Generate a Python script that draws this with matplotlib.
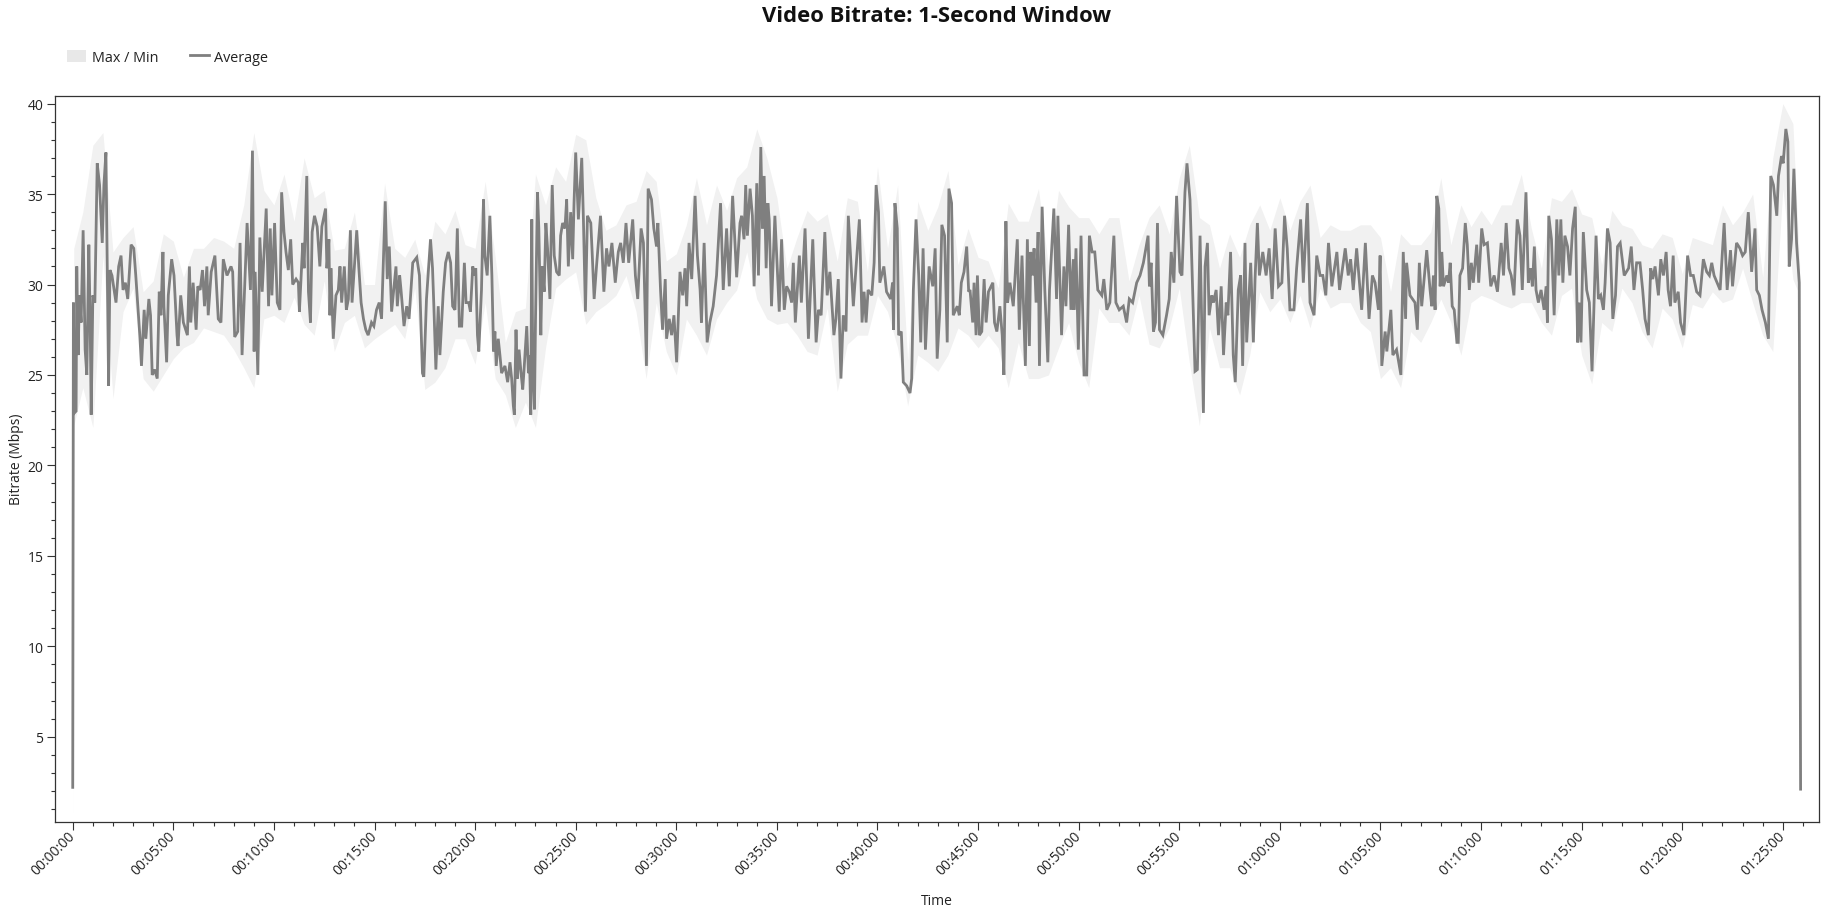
import numpy as np
import matplotlib
matplotlib.use("Agg")
import matplotlib.pyplot as plt
from matplotlib.patches import Patch
from matplotlib.lines import Line2D
from matplotlib.ticker import MultipleLocator, FuncFormatter

# average bitrate (seconds, Mbps) at its turning points
avg_samples = [
    (0, 2.2), (2, 29.0), (5, 22.9), (10, 23.0), (12, 31.0), (16, 26.1), (20, 29.4), (25, 27.9),
    (31, 33.0), (37, 26.4), (42, 25.0), (48, 32.2), (52, 27.9), (55, 22.8), (60, 29.4), (66, 29.0),
    (73, 36.7), (80, 35.5), (88, 32.3), (93, 35.5), (99, 37.3), (107, 24.4), (111, 30.8), (117, 30.5),
    (129, 29.0), (137, 31.0), (144, 31.6), (150, 29.7), (157, 30.1), (164, 29.2), (174, 32.2), (182, 32.0),
    (188, 30.5), (200, 27.2), (205, 25.5), (213, 28.6), (218, 27.0), (227, 29.2), (232, 28.3), (237, 25.0),
    (244, 25.3), (252, 24.8), (258, 29.6), (263, 28.3), (269, 31.8), (272, 28.8), (280, 25.7), (285, 29.4),
    (295, 31.4), (302, 30.5), (311, 27.2), (314, 26.6), (322, 29.4), (330, 27.9), (342, 27.2), (348, 31.0),
    (352, 27.9), (359, 30.1), (368, 27.5), (373, 29.9), (380, 29.7), (387, 30.8), (393, 28.8), (400, 31.0),
    (404, 28.3), (413, 30.7), (424, 31.6), (434, 28.1), (442, 27.9), (449, 31.4), (460, 30.5), (472, 31.0),
    (477, 30.7), (483, 27.1), (492, 27.4), (499, 32.3), (505, 26.1), (520, 33.4), (530, 29.7), (536, 37.4),
    (541, 26.3), (544, 30.7), (552, 25.0), (558, 32.6), (565, 29.6), (577, 34.2), (584, 28.8), (589, 33.1),
    (594, 29.4), (602, 33.4), (610, 29.0), (618, 28.6),
    (623, 35.1), (630, 32.9), (636, 31.8), (643, 30.8), (650, 32.5), (656, 30.0), (666, 30.3), (673, 30.1),
    (676, 28.5), (680, 30.0), (686, 32.3), (690, 30.9), (698, 36.0), (703, 29.6), (709, 27.9), (714, 32.9),
    (721, 33.8), (729, 33.2), (737, 31.0), (743, 33.2), (754, 34.2), (758, 30.9), (764, 32.5), (767, 28.3),
    (770, 30.9), (777, 27.0), (785, 29.4), (792, 29.7), (797, 31.0), (802, 29.0), (810, 31.0), (816, 28.6),
    (822, 29.2), (828, 33.0), (833, 29.0), (847, 33.0), (853, 31.0), (860, 29.0), (867, 28.1), (874, 27.5),
    (881, 27.2), (891, 27.9), (898, 27.7), (906, 28.6), (914, 29.0), (921, 28.1), (932, 34.6), (938, 30.3),
    (944, 32.1), (951, 28.5), (964, 31.0), (968, 28.8), (975, 30.5), (979, 29.7), (988, 27.7), (996, 28.8),
    (1003, 28.1), (1014, 31.2), (1026, 31.5), (1034, 30.5), (1043, 25.1), (1047, 24.9), (1055, 29.2), (1067, 32.5),
    (1073, 30.9), (1077, 28.8), (1083, 25.3), (1090, 28.8), (1095, 26.1), (1105, 29.6), (1112, 31.2), (1120, 31.8),
    (1127, 31.2), (1133, 28.8), (1140, 28.6), (1147, 33.1), (1153, 27.7), (1160, 27.7), (1168, 31.2), (1173, 29.0),
    (1181, 29.0), (1186, 28.5), (1193, 31.0), (1197, 30.5), (1202, 30.9), (1207, 27.2), (1211, 26.3), (1219, 29.7),
    (1225, 34.7), (1229, 31.6), (1236, 30.5), (1244, 33.8), (1250, 30.5), (1255, 26.3), (1259, 27.4), (1263, 25.5),
    (1269, 27.0), (1274, 26.1), (1279, 25.1), (1289, 25.5), (1297, 24.6),
    (1304, 25.7), (1309, 24.8), (1314, 23.3), (1317, 22.8), (1322, 27.5), (1326, 24.8), (1331, 26.4), (1337, 25.1),
    (1342, 24.2), (1346, 25.3), (1354, 27.7), (1359, 25.1), (1362, 26.1), (1366, 22.8), (1369, 33.6), (1372, 25.3),
    (1377, 23.1), (1380, 27.9), (1386, 35.1), (1390, 33.1), (1396, 27.2), (1400, 31.0), (1406, 29.6), (1411, 33.4),
    (1416, 32.0), (1423, 29.2), (1430, 35.5), (1436, 31.6), (1443, 30.7), (1451, 30.5), (1455, 32.7), (1461, 33.4),
    (1468, 33.1), (1473, 34.7), (1478, 31.0), (1485, 34.0), (1491, 31.4), (1495, 34.5), (1500, 37.3), (1508, 33.6),
    (1518, 37.0), (1523, 33.6), (1529, 28.5), (1535, 33.8), (1545, 33.4), (1549, 31.8), (1555, 29.2), (1562, 31.0),
    (1574, 33.8), (1580, 31.2), (1584, 29.6), (1592, 32.0), (1599, 31.0), (1608, 32.3), (1618, 30.1), (1627, 31.8),
    (1634, 32.3), (1642, 31.2), (1650, 33.4), (1658, 31.2), (1670, 33.6), (1678, 30.5), (1685, 29.2), (1695, 33.1),
    (1702, 32.3), (1711, 25.5), (1716, 35.3), (1726, 34.7), (1733, 33.1), (1741, 32.1), (1745, 33.4), (1753, 29.7),
    (1759, 27.5), (1767, 30.3), (1771, 27.0), (1779, 28.1), (1786, 27.2), (1793, 28.3), (1801, 25.7), (1811, 30.7),
    (1819, 29.4), (1826, 30.9), (1831, 28.8), (1838, 32.3), (1846, 30.3), (1856, 34.9), (1863, 31.6), (1871, 29.7),
    (1875, 27.9), (1883, 32.3), (1892, 26.8), (1900, 27.9), (1910, 28.8), (1920, 30.5), (1932, 34.5), (1940, 29.7),
    (1950, 33.1), (1958, 29.9), (1968, 34.9), (1980, 30.4),
    (1990, 33.4), (1995, 33.8), (2002, 32.5), (2007, 35.5), (2012, 32.7), (2020, 35.3), (2027, 33.8), (2032, 29.9),
    (2040, 35.6), (2045, 30.5), (2052, 37.6), (2057, 33.1), (2062, 36.0), (2068, 30.9), (2073, 34.5), (2077, 33.6),
    (2084, 28.8), (2094, 33.8), (2107, 28.5), (2114, 32.5), (2122, 28.6), (2129, 29.9), (2137, 29.6), (2144, 29.0),
    (2149, 31.2), (2155, 27.9), (2167, 31.6), (2173, 29.0), (2184, 33.1), (2194, 27.0), (2207, 32.5), (2217, 26.8),
    (2224, 28.6), (2232, 28.3), (2243, 32.9), (2250, 29.4), (2258, 30.7), (2270, 27.2), (2276, 28.1), (2283, 30.3),
    (2291, 24.8), (2298, 28.3), (2306, 27.4), (2313, 33.8), (2328, 28.8), (2346, 33.6), (2354, 27.9), (2360, 29.6),
    (2366, 27.9), (2372, 29.7), (2383, 29.4), (2390, 31.2), (2396, 35.5), (2403, 34.0), (2407, 30.1), (2419, 31.0),
    (2427, 29.6), (2439, 29.2), (2445, 30.1), (2448, 27.5), (2452, 34.5), (2459, 33.1), (2463, 27.2), (2471, 27.4),
    (2477, 24.6), (2487, 24.4), (2497, 24.0), (2502, 24.8), (2507, 29.7), (2515, 33.6), (2523, 30.5), (2529, 26.8),
    (2536, 32.0), (2543, 26.4), (2554, 31.0), (2565, 29.9), (2572, 32.0), (2578, 25.9), (2586, 28.6), (2592, 33.3),
    (2600, 32.7), (2608, 26.8), (2613, 35.3), (2621, 34.5), (2626, 28.3), (2638, 28.8), (2644, 28.3), (2650, 30.1),
    (2658, 30.7), (2666, 32.1), (2672, 29.6),
    (2676, 29.7), (2681, 28.6), (2684, 27.9), (2688, 30.1), (2694, 27.2), (2698, 30.5), (2704, 27.2), (2711, 27.4),
    (2718, 30.3), (2724, 27.9), (2731, 29.6), (2744, 30.1), (2749, 27.9), (2756, 27.4), (2765, 28.8), (2772, 27.2),
    (2777, 25.0), (2783, 33.5), (2788, 29.0), (2795, 30.1), (2805, 28.8), (2817, 32.5), (2823, 27.5), (2831, 31.6),
    (2841, 25.5), (2847, 32.5), (2853, 26.6), (2857, 31.8), (2863, 30.5), (2867, 32.0), (2873, 29.0), (2879, 32.9),
    (2883, 25.5), (2891, 34.3), (2899, 29.7), (2908, 25.7), (2913, 29.7), (2926, 34.2), (2934, 29.2), (2938, 33.8),
    (2949, 27.2), (2956, 31.0), (2962, 28.8), (2970, 33.3), (2977, 28.6), (2984, 31.4), (2986, 28.6), (2992, 32.0),
    (2999, 26.4), (3007, 32.7), (3016, 25.0), (3024, 25.0), (3032, 32.7), (3040, 31.8), (3048, 31.8), (3057, 29.7),
    (3069, 29.4), (3075, 30.3), (3084, 28.6), (3093, 29.0), (3105, 32.7), (3111, 29.0), (3121, 28.6), (3133, 28.8),
    (3143, 27.9), (3151, 29.2), (3161, 29.0), (3173, 30.1), (3183, 30.5), (3193, 31.2), (3207, 32.7), (3211, 29.9),
    (3216, 31.2), (3223, 27.4), (3229, 27.9), (3235, 33.4), (3241, 27.5), (3251, 27.2), (3262, 28.3), (3270, 29.2),
    (3276, 31.8), (3284, 30.1), (3292, 34.9), (3302, 30.7), (3308, 30.5), (3317, 35.1), (3323, 36.7), (3332, 34.7),
    (3347, 25.2), (3354, 25.3),
    (3362, 32.7), (3365, 29.7), (3372, 22.9), (3377, 31.0), (3384, 32.3), (3389, 28.3), (3397, 29.4), (3402, 29.0),
    (3410, 29.7), (3417, 27.2), (3425, 29.9), (3432, 26.1), (3440, 29.0), (3445, 28.3), (3453, 31.8), (3461, 26.1),
    (3467, 24.6), (3476, 29.7), (3483, 30.5), (3489, 25.5), (3496, 32.3), (3501, 26.8), (3513, 31.2), (3521, 26.8),
    (3526, 30.3), (3533, 33.4), (3539, 30.5), (3549, 31.8), (3559, 30.5), (3568, 32.0), (3577, 29.2), (3586, 33.1),
    (3596, 29.9), (3606, 30.1), (3614, 33.8), (3622, 32.0), (3630, 28.6), (3642, 28.6), (3650, 30.9), (3662, 33.6),
    (3670, 30.1), (3682, 34.5), (3690, 29.0), (3702, 28.3), (3710, 31.6), (3720, 30.5), (3728, 30.5), (3737, 29.4),
    (3745, 32.3), (3755, 29.9), (3770, 31.8), (3778, 29.7), (3795, 32.0), (3804, 30.5), (3811, 31.4), (3819, 29.7),
    (3829, 32.0), (3844, 28.6), (3855, 32.3), (3866, 28.1), (3876, 30.5), (3884, 30.1), (3894, 28.6), (3899, 31.6),
    (3904, 25.5), (3914, 27.4), (3919, 26.3), (3931, 28.6), (3937, 26.1), (3948, 26.4), (3961, 25.0), (3968, 31.8),
    (3975, 28.1), (3978, 31.2), (3988, 29.4), (4003, 29.0), (4010, 27.5), (4016, 31.2), (4023, 28.8), (4038, 31.9),
    (4048, 29.7), (4053, 28.8), (4058, 30.5), (4063, 28.6), (4068, 34.9), (4074, 34.2), (4078, 29.9), (4083, 31.8),
    (4088, 29.9), (4098, 30.5), (4103, 30.1), (4108, 31.2), (4114, 28.8), (4120, 28.6), (4128, 26.8), (4132, 26.8),
    (4137, 30.5), (4145, 30.9), (4153, 33.4), (4159, 32.2), (4165, 29.7), (4171, 31.2), (4177, 30.1), (4187, 32.2),
    (4193, 30.1), (4202, 33.1), (4209, 32.2), (4219, 32.3), (4229, 29.9), (4239, 30.5), (4249, 29.6), (4260, 32.3),
    (4267, 30.5), (4275, 33.4), (4283, 30.9), (4290, 30.5), (4298, 29.4), (4308, 33.6), (4316, 32.7), (4323, 29.7),
    (4329, 32.7), (4334, 35.1), (4341, 30.1), (4348, 30.9), (4353, 29.9), (4359, 32.1), (4364, 29.7), (4371, 29.0),
    (4379, 29.7), (4388, 28.6), (4394, 29.9), (4398, 27.9), (4402, 33.8), (4410, 32.5), (4418, 28.3), (4426, 33.6),
    (4432, 30.5), (4438, 33.6), (4444, 30.1), (4450, 32.7), (4458, 32.1), (4465, 30.5), (4473, 33.1), (4481, 34.3),
    (4488, 26.8), (4492, 29.0), (4498, 26.8), (4505, 32.9), (4515, 29.7), (4523, 29.0), (4531, 25.2), (4543, 32.7),
    (4550, 29.2), (4557, 29.4), (4565, 28.6), (4570, 30.1), (4577, 33.1), (4585, 32.3), (4593, 28.1), (4601, 29.4),
    (4607, 32.1), (4615, 32.3), (4627, 30.5), (4640, 30.9), (4648, 32.1), (4656, 29.7), (4664, 31.2),
    (4674, 31.2), (4682, 29.7), (4689, 28.1), (4699, 27.2), (4706, 30.9), (4712, 30.3), (4719, 31.0), (4729, 29.4),
    (4736, 31.4), (4744, 30.5), (4752, 31.8), (4758, 29.7), (4765, 28.8), (4773, 31.6), (4778, 29.0), (4788, 29.6),
    (4795, 27.9), (4805, 27.2), (4811, 29.6), (4816, 31.6), (4825, 30.5), (4833, 30.5), (4843, 29.6), (4853, 29.4),
    (4863, 31.4), (4873, 30.7), (4881, 30.5), (4888, 31.2), (4895, 30.5), (4913, 29.7), (4925, 33.4), (4934, 29.7),
    (4944, 31.9), (4950, 29.9), (4962, 32.3), (4972, 32.0), (4980, 31.6), (4988, 31.8), (4997, 34.0), (5007, 30.7),
    (5017, 33.1), (5022, 29.7), (5030, 29.4), (5038, 28.6), (5048, 27.9), (5057, 27.0), (5064, 36.0), (5072, 35.5),
    (5082, 33.8), (5087, 36.0), (5096, 37.1), (5101, 36.7), (5109, 38.6), (5115, 37.9), (5119, 31.0), (5126, 32.5),
    (5133, 36.4), (5141, 32.3), (5149, 30.1), (5153, 2.1),
]

# max / min envelope (seconds, min Mbps, max Mbps)
band_samples = [
    (0, 0.7, 3.0), (3, 22.2, 32.0), (30, 24.3, 34.0), (60, 22.1, 37.7), (90, 31.6, 38.4), (120, 23.7, 31.8),
    (150, 28.5, 32.6), (180, 29.8, 33.2), (210, 24.8, 29.6), (240, 24.1, 30.2), (270, 25.0, 32.8),
    (300, 25.9, 32.4), (330, 26.5, 30.4), (360, 26.8, 32.0), (390, 27.6, 32.0), (420, 27.4, 32.6),
    (450, 27.2, 32.4), (480, 26.4, 32.0), (510, 25.4, 34.4), (540, 24.3, 38.4), (570, 28.1, 35.2),
    (600, 28.3, 34.4), (630, 27.9, 36.1), (660, 29.3, 33.5), (690, 27.8, 37.0), (720, 27.2, 34.8),
    (750, 30.2, 35.2), (780, 26.3, 31.9), (810, 27.9, 32.0), (840, 28.3, 34.0), (870, 26.5, 30.0),
    (900, 27.0, 30.0), (930, 27.4, 35.6), (960, 27.8, 32.0), (990, 27.0, 31.5), (1020, 29.8, 32.5),
    (1050, 24.2, 30.5), (1080, 24.6, 33.5), (1110, 25.4, 32.8), (1140, 27.0, 34.1), (1170, 27.0, 32.2),
    (1200, 25.6, 32.0), (1230, 29.0, 35.7), (1260, 24.8, 31.5), (1290, 23.9, 26.8), (1320, 22.1, 28.5),
    (1350, 23.5, 28.7), (1380, 22.1, 36.1), (1410, 26.5, 34.4), (1440, 29.8, 36.5), (1470, 30.3, 35.7),
    (1500, 30.7, 38.3), (1530, 27.8, 38.0), (1560, 28.5, 34.8), (1590, 28.9, 33.0), (1620, 29.4, 33.3),
    (1650, 30.5, 34.4), (1680, 28.5, 34.6), (1710, 24.8, 36.3), (1740, 29.0, 35.7), (1770, 26.3, 31.3),
    (1800, 25.0, 31.7), (1830, 28.1, 33.3), (1860, 27.2, 35.9), (1890, 26.1, 33.3), (1920, 28.1, 35.5),
    (1950, 29.0, 34.1), (1980, 29.7, 35.9), (2010, 31.8, 36.5), (2040, 29.2, 38.6), (2070, 28.1, 37.0),
    (2100, 27.8, 34.8), (2130, 27.9, 30.9), (2160, 27.2, 32.6), (2190, 26.3, 34.1), (2220, 26.1, 33.5),
    (2250, 28.7, 33.9), (2280, 24.1, 31.3), (2310, 26.7, 34.8), (2340, 27.2, 34.6), (2370, 27.2, 30.7),
    (2400, 29.4, 36.5), (2430, 28.5, 32.0), (2460, 26.5, 35.5), (2490, 23.3, 25.8), (2520, 26.1, 34.6),
    (2550, 25.7, 33.0), (2580, 25.2, 34.3), (2610, 26.1, 36.3), (2640, 27.6, 31.1), (2670, 27.2, 33.1),
    (2700, 26.5, 31.5), (2730, 27.2, 31.3), (2760, 26.5, 29.8), (2790, 24.3, 34.5), (2820, 26.8, 33.5),
    (2850, 24.8, 33.5), (2880, 24.8, 35.3), (2910, 25.0, 31.0), (2940, 26.5, 35.2), (2970, 27.9, 34.3),
    (3000, 25.7, 33.7), (3030, 24.3, 33.7), (3060, 28.7, 32.8), (3090, 27.9, 33.7), (3120, 27.9, 33.7),
    (3150, 27.2, 30.2), (3180, 29.4, 32.2), (3210, 26.7, 33.7), (3240, 26.5, 34.4), (3270, 27.6, 32.8),
    (3300, 29.8, 35.9), (3330, 25.7, 37.7), (3360, 22.2, 33.7), (3390, 27.6, 33.3), (3420, 25.4, 30.9),
    (3450, 25.4, 32.8), (3480, 23.9, 31.5), (3510, 26.1, 33.3), (3540, 29.6, 34.4), (3570, 28.5, 33.0),
    (3600, 29.2, 34.8), (3630, 27.9, 33.0), (3660, 29.4, 34.6), (3690, 27.6, 35.5), (3720, 29.8, 32.6),
    (3750, 28.7, 33.3), (3780, 29.0, 33.0), (3810, 29.0, 33.0), (3840, 27.9, 33.3), (3870, 27.4, 33.3),
    (3900, 24.8, 32.6), (3930, 25.4, 29.6), (3960, 24.3, 32.8), (3990, 27.4, 32.2), (4020, 26.8, 32.2),
    (4050, 27.9, 32.9), (4080, 29.2, 35.9), (4110, 27.9, 32.2), (4140, 26.1, 34.4), (4170, 29.0, 33.2),
    (4200, 29.4, 34.1), (4230, 29.2, 33.3), (4260, 28.9, 34.4), (4290, 28.7, 34.4), (4320, 29.0, 36.1),
    (4350, 29.0, 33.1), (4380, 27.9, 30.9), (4410, 27.2, 34.8), (4440, 29.4, 34.6), (4470, 29.8, 35.3),
    (4500, 26.1, 33.9), (4530, 24.5, 33.7), (4560, 27.9, 31.1), (4590, 27.4, 34.1), (4620, 29.8, 33.3),
    (4650, 29.0, 33.1), (4680, 27.4, 32.2), (4710, 26.5, 32.0), (4740, 28.7, 32.8), (4770, 28.1, 32.6),
    (4800, 26.5, 30.6), (4830, 28.9, 32.6), (4860, 28.7, 32.4), (4890, 29.6, 32.2), (4920, 29.0, 34.4),
    (4950, 29.2, 33.3), (4980, 30.9, 34.0), (5010, 29.0, 35.0), (5040, 27.2, 30.4), (5070, 26.3, 37.0),
    (5100, 35.3, 40.0), (5130, 30.3, 38.9), (5150, 29.4, 31.1), (5153, 1.7, 2.5),
]

x_ticks = list(range(0, 5101, 300))

plt.rcParams['font.family'] = ['Open Sans', 'DejaVu Sans']

avg_t, avg_v = np.array(avg_samples).T
band_t, band_lo, band_hi = np.array(band_samples).T


def hms(v, pos):
    s = int(round(v))
    return f"{s // 3600:02d}:{s % 3600 // 60:02d}:{s % 60:02d}"


fig = plt.figure(figsize=(18.47, 9.12), dpi=100)
ax = fig.add_axes([0.02994, 0.0979, 0.95474, 0.7961])

ax.fill_between(band_t, band_lo, band_hi, color='#f1f1f1', lw=0)
ax.plot(avg_t, avg_v, color='#7f7f7f', lw=2.0, solid_joinstyle='miter')

ax.set_xlim(-52, 5207)
ax.set_ylim(0.30, 40.44)

ax.set_xticks(x_ticks)
ax.xaxis.set_major_formatter(FuncFormatter(hms))
ax.xaxis.set_minor_locator(MultipleLocator(60))
ax.yaxis.set_major_locator(MultipleLocator(5))
ax.yaxis.set_minor_locator(MultipleLocator(1))

for s in ax.spines.values():
    s.set_color('#333333')
    s.set_linewidth(0.9)
ax.tick_params(which='both', direction='out', color='#333333', width=0.8, labelsize=10, labelcolor='#222222')
ax.tick_params(which='major', length=5.5, pad=3)
ax.tick_params(which='minor', length=3)
for lab in ax.get_xticklabels():
    lab.set_rotation(45)
    lab.set_ha('right')
    lab.set_va('center')
    lab.set_rotation_mode('anchor')

ax.set_xlabel('Time', fontsize=10, color='#222222')
ax.xaxis.label.set_va('center')
ax.xaxis.set_label_coords(0.5, -0.108)
ax.set_ylabel('Bitrate (Mbps)', fontsize=10, color='#222222')
ax.yaxis.label.set_va('center')
ax.yaxis.set_label_coords(-0.022, 0.5)

fig.text(0.5071, 0.982, 'Video Bitrate: 1-Second Window', ha='center', va='center',
         fontsize=15.8, fontweight='bold', color='#111111')

handles = [Patch(facecolor='#e8e8e8', edgecolor='none'),
           Line2D([], [], color='#7f7f7f', lw=2)]
fig.legend(handles, ['Max / Min', 'Average'], loc='center left',
           bbox_to_anchor=(67 / 1847, 1 - 58 / 912), ncol=2, frameon=False, fontsize=10.4,
           handlelength=1.3, handleheight=0.9, handletextpad=0.4, columnspacing=2.2,
           borderpad=0, borderaxespad=0, labelcolor='#222222')

fig.savefig('out.png', dpi=100)
